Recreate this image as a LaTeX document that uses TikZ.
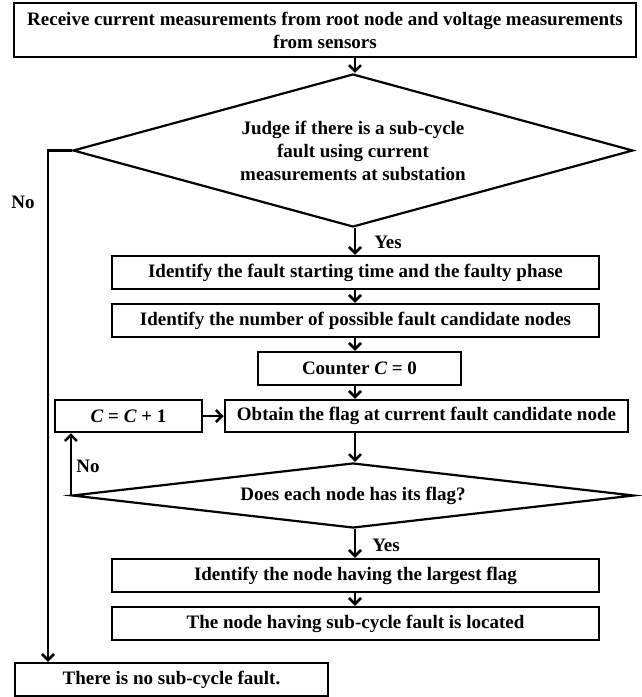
\documentclass[tikz,border=0pt]{standalone}
\usepackage{fontspec}
\setmainfont{Liberation Serif}
\usetikzlibrary{shapes.geometric,arrows.meta}
\begin{document}
\begin{tikzpicture}[x=1pt,y=-1pt,
  every node/.style={font=\fontsize{19}{23}\selectfont\bfseries},
  boxstyle/.style={draw,line width=2.5pt,inner sep=0pt,align=center},
  dia/.style={draw,diamond,line width=2.2pt,inner sep=0pt,align=center},
  arr/.style={line width=2.5pt,-{Straight Barb[length=6pt,width=12pt]}},
  lbl/.style={inner sep=0pt}]
\useasboundingbox (0,0) rectangle (641,697);
\node[boxstyle,minimum width=622pt,minimum height=54pt] (b1) at (325,30)
  {Receive current measurements from root node and voltage measurements\\from sensors};
\node[dia,minimum width=560pt,minimum height=153pt,aspect=3.66] (d1) at (353,150.5)
  {Judge if there is a sub-cycle\\fault using current\\measurements at substation};
\node[boxstyle,minimum width=487pt,minimum height=33pt] (b2) at (355.5,272.5)
  {Identify the fault starting time and the faulty phase};
\node[boxstyle,minimum width=487pt,minimum height=33pt] (b3) at (355.5,320.5)
  {Identify the number of possible fault candidate nodes};
\node[boxstyle,minimum width=203pt,minimum height=33pt] (b4) at (359.5,368.5)
  {Counter \textit{C} = 0};
\node[boxstyle,minimum width=403pt,minimum height=32pt] (b5) at (426.5,416)
  {Obtain the flag at current fault candidate node};
\node[boxstyle,minimum width=147pt,minimum height=32pt] (b6) at (128.5,416)
  {\textit{C} = \textit{C} + 1};
\node[dia,minimum width=562pt,minimum height=65pt,aspect=8.6] (d2) at (353,495.5)
  {Does each node has its flag?};
\node[boxstyle,minimum width=487pt,minimum height=33pt] (b7) at (355.5,575.5)
  {Identify the node having the largest flag};
\node[boxstyle,minimum width=487pt,minimum height=33pt] (b8) at (355.5,623.5)
  {The node having sub-cycle fault is located};
\node[boxstyle,minimum width=313pt,minimum height=33pt] (b9) at (171.5,679.5)
  {There is no sub-cycle fault.};
\node[lbl] (yes1) at (388,242) {Yes};
\node[lbl] (no1) at (23,202) {No};
\node[lbl] (no2) at (88,466) {No};
\node[lbl] (yes2) at (386,545) {Yes};
\coordinate (col) at (355,0);
\coordinate (nox) at (48,150.5);
\draw[arr] (col |- b1.south) -- (col |- d1.north);
\draw[arr] (col |- d1.south) -- (col |- b2.north);
\draw[arr] (col |- b2.south) -- (col |- b3.north);
\draw[arr] (col |- b3.south) -- (col |- b4.north);
\draw[arr] (col |- b4.south) -- (col |- b5.north);
\draw[arr] (b6.east) -- (b5.west);
\draw[arr] (col |- b5.south) -- (col |- d2.north);
\draw[arr] (d2.west) -- (d2.west |- b6.south);
\draw[arr] (col |- d2.south) -- (col |- b7.north);
\draw[arr] (col |- b7.south) -- (col |- b8.north);
\draw[arr] (d1.west) -- (nox) -- (nox |- b9.north);
\end{tikzpicture}
\end{document}
